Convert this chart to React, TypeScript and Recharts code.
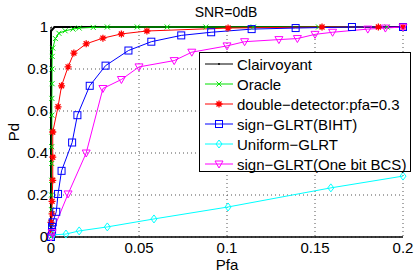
import { CartesianGrid, Label, Line, LineChart, XAxis, YAxis } from 'recharts';

// values (Pfa on x, Pd on y)
const clairvoyantPfa = [0, 0, 0.002, 0.2];
const clairvoyantPd = [0, 0.98, 1, 1];

const oraclePfa = [0, 0.0003, 0.0003, 0.0003, 0.0004, 0.0004, 0.0004, 0.0005, 0.0005, 0.0005, 0.0006, 0.0006, 0.0007, 0.001, 0.0025, 0.0045, 0.008, 0.0125, 0.016, 0.024, 0.032, 0.049, 0.066, 0.088, 0.115, 0.152, 0.191];
const oraclePd = [0, 0.06, 0.13, 0.2, 0.27, 0.35, 0.43, 0.5, 0.58, 0.66, 0.73, 0.8, 0.86, 0.9, 0.945, 0.97, 0.982, 0.99, 0.995, 0.998, 1, 1, 1, 1, 1, 1, 1];

const doublePfa = [0, 0, 0.0006, 0.0006, 0.001, 0.001, 0.001, 0.004, 0.006, 0.0097, 0.013, 0.02, 0.0295, 0.04, 0.0545, 0.1006, 0.154, 0.186, 0.2];
const doublePd = [0.02, 0.07, 0.11, 0.17, 0.27, 0.38, 0.5, 0.62, 0.72, 0.81, 0.876, 0.92, 0.947, 0.967, 0.981, 0.995, 1, 1, 1];

const bihtPfa = [0, 0.0006, 0.0006, 0.001, 0.003, 0.004, 0.006, 0.012, 0.015, 0.022, 0.031, 0.044, 0.057, 0.074, 0.091, 0.114, 0.139, 0.171, 0.2];
const bihtPd = [0, 0.024, 0.048, 0.07, 0.12, 0.205, 0.315, 0.45, 0.58, 0.72, 0.816, 0.888, 0.93, 0.96, 0.975, 0.99, 0.995, 1, 1];

const uniformPfa = [0, 0.001, 0.0085, 0.016, 0.032, 0.0585, 0.1006, 0.159, 0.2];
const uniformPd = [0, 0.01, 0.014, 0.029, 0.048, 0.086, 0.143, 0.234, 0.29];

const bcsPfa = [0, 0.0006, 0.0097, 0.02, 0.0295, 0.04, 0.05, 0.07, 0.08, 0.1, 0.11, 0.1295, 0.14, 0.15, 0.16, 0.18, 0.19, 0.2];
const bcsPd = [0, 0.02, 0.205, 0.4, 0.707, 0.75, 0.81, 0.84, 0.88, 0.91, 0.93, 0.94, 0.945, 0.965, 0.975, 0.99, 0.995, 1];

const xTicks = [0, 0.05, 0.1, 0.15, 0.2];
const yTicks = [0, 0.2, 0.4, 0.6, 0.8, 1];

const zip = (xs: number[], ys: number[]) => xs.map((x, i) => ({ x, y: ys[i] }));

type Shape = 'dot' | 'x' | 'star' | 'square' | 'diamond' | 'triangle';

const Marker = ({ cx, cy, shape, color }: { cx: number; cy: number; shape: Shape; color: string }) => {
  if (cx == null || cy == null) return null;
  switch (shape) {
    case 'dot':
      return <circle cx={cx} cy={cy} r={1} fill={color} />;
    case 'x':
      return (
        <path
          d={`M${cx - 2.5},${cy - 2.5}L${cx + 2.5},${cy + 2.5}M${cx - 2.5},${cy + 2.5}L${cx + 2.5},${cy - 2.5}`}
          stroke={color}
          strokeWidth={1}
        />
      );
    case 'star':
      return (
        <path
          d={`M${cx - 3.5},${cy}L${cx + 3.5},${cy}M${cx},${cy - 3.5}L${cx},${cy + 3.5}M${cx - 2.5},${cy - 2.5}L${cx + 2.5},${cy + 2.5}M${cx - 2.5},${cy + 2.5}L${cx + 2.5},${cy - 2.5}`}
          stroke={color}
          strokeWidth={1.3}
        />
      );
    case 'square':
      return <rect x={cx - 3.5} y={cy - 3.5} width={7} height={7} fill="none" stroke={color} strokeWidth={1} />;
    case 'diamond':
      return (
        <path d={`M${cx},${cy - 4}L${cx + 3},${cy}L${cx},${cy + 4}L${cx - 3},${cy}Z`} fill="none" stroke={color} strokeWidth={1} />
      );
    case 'triangle':
      return (
        <path d={`M${cx - 4},${cy - 3}L${cx + 4},${cy - 3}L${cx},${cy + 4}Z`} fill="none" stroke={color} strokeWidth={1} />
      );
  }
};

const series = [
  { name: 'Clairvoyant', data: zip(clairvoyantPfa, clairvoyantPd), color: '#000000', shape: 'dot' as Shape, width: 2 },
  { name: 'Oracle', data: zip(oraclePfa, oraclePd), color: '#00e000', shape: 'x' as Shape, width: 1 },
  { name: 'double\u2212detector:pfa=0.3', data: zip(doublePfa, doublePd), color: '#ff0000', shape: 'star' as Shape, width: 1 },
  { name: 'sign\u2212GLRT(BIHT)', data: zip(bihtPfa, bihtPd), color: '#0000ff', shape: 'square' as Shape, width: 1 },
  { name: 'Uniform\u2212GLRT', data: zip(uniformPfa, uniformPd), color: '#00ffff', shape: 'diamond' as Shape, width: 1 },
  { name: 'sign\u2212GLRT(One bit BCS)', data: zip(bcsPfa, bcsPd), color: '#ff00ff', shape: 'triangle' as Shape, width: 1 },
];

const font = 'Liberation Sans, Arial, Helvetica, sans-serif';
const tickStyle = { fill: '#000', fontSize: 15, fontFamily: font };

export default function App() {
  return (
    <div style={{ position: 'absolute', left: 0, top: 0, width: 414, height: 273, background: '#fff', fontFamily: font }}>
      <LineChart width={414} height={273} margin={{ top: 27, right: 11, bottom: 0, left: 0 }}>
        <CartesianGrid stroke="#555" strokeDasharray="1 3" />
        <XAxis
          type="number"
          dataKey="x"
          domain={[0, 0.2]}
          ticks={xTicks}
          height={36}
          tickLine={false}
          tickSize={0}
          tickMargin={5}
          axisLine={{ stroke: '#000', strokeWidth: 1.5 }}
          tick={tickStyle}
          allowDuplicatedCategory={false}
        >
          <Label value="Pfa" position="insideBottom" offset={3} style={tickStyle} />
        </XAxis>
        <XAxis
          xAxisId="top"
          orientation="top"
          type="number"
          dataKey="x"
          domain={[0, 0.2]}
          ticks={xTicks}
          height={0}
          tick={false}
          tickLine={false}
          axisLine={{ stroke: '#000' }}
        />
        <YAxis
          type="number"
          domain={[0, 1]}
          ticks={yTicks}
          width={51}
          tickLine={false}
          tickSize={0}
          tickMargin={3}
          axisLine={{ stroke: '#000' }}
          tick={tickStyle}
        >
          <Label value="Pd" angle={-90} position="insideLeft" offset={14} style={{ ...tickStyle, textAnchor: 'middle' }} />
        </YAxis>
        <YAxis
          yAxisId="right"
          orientation="right"
          type="number"
          domain={[0, 1]}
          ticks={yTicks}
          width={0}
          tick={false}
          tickLine={false}
          axisLine={{ stroke: '#000' }}
        />
        {series.map((s) => (
          <Line
            key={s.name}
            data={s.data}
            dataKey="y"
            name={s.name}
            type="linear"
            stroke={s.color}
            strokeWidth={s.width}
            isAnimationActive={false}
            dot={(p: any) => <Marker key={`${s.name}-${p.index}`} cx={p.cx} cy={p.cy} shape={s.shape} color={s.color} />}
          />
        ))}
        <text x={226} y={17} textAnchor="middle" fontSize={14} fontFamily={font} fill="#000">
          SNR=0dB
        </text>
      </LineChart>
      <div
        style={{
          position: 'absolute',
          left: 199,
          top: 52,
          width: 212,
          height: 120,
          border: '1px solid #000',
          background: '#fff',
          boxSizing: 'border-box',
          paddingTop: 1,
        }}
      >
        {series.map((s) => (
          <div key={s.name} style={{ display: 'flex', alignItems: 'center', height: 20, fontSize: 15, color: '#000', whiteSpace: 'nowrap' }}>
            <svg width={36} height={20} style={{ flex: 'none' }}>
              <line x1={5} x2={33} y1={10} y2={10} stroke={s.color} strokeWidth={1} />
              <Marker cx={19} cy={10} shape={s.shape} color={s.color} />
            </svg>
            <span style={{ marginLeft: 1 }}>{s.name}</span>
          </div>
        ))}
      </div>
    </div>
  );
}
